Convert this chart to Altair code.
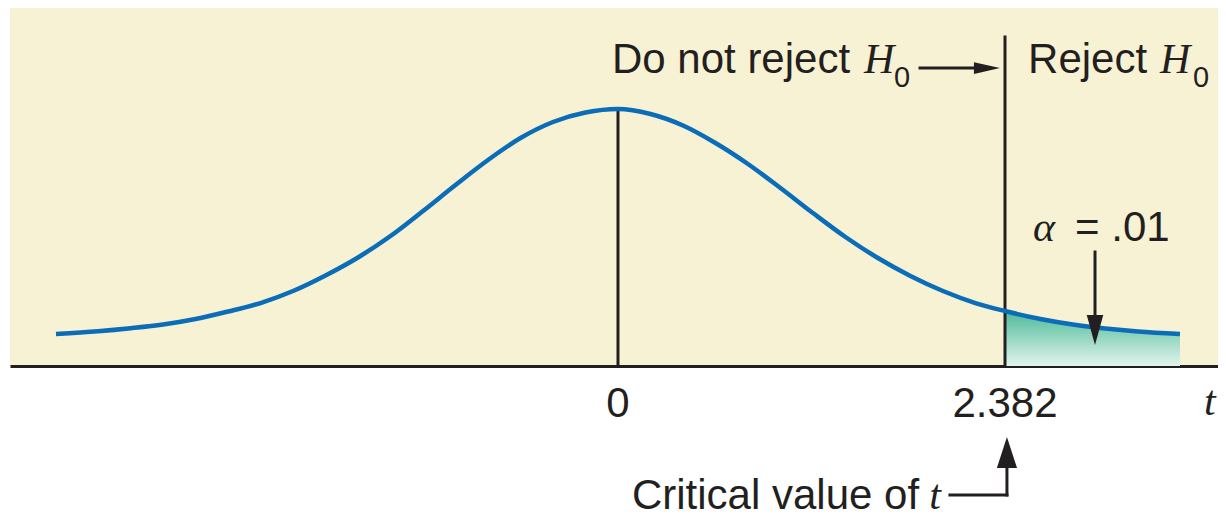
import altair as alt
import pandas as pd

# ---- curve (t value, density height) ----
curve_t = [-3.459, -3.2, -3.0, -2.8, -2.6, -2.4, -2.2, -2.0, -1.8, -1.6, -1.4, -1.2,
           -1.0, -0.8, -0.6, -0.4, -0.2, 0.0, 0.2, 0.4, 0.6, 0.8, 1.0, 1.2, 1.4,
           1.6, 1.8, 2.0, 2.2, 2.382, 2.6, 2.8, 3.0, 3.2, 3.459]
curve_d = [0.0501, 0.0544, 0.0591, 0.0649, 0.0735, 0.0852, 0.0985, 0.1173, 0.1416,
           0.1697, 0.2033, 0.2425, 0.2831, 0.3222, 0.3566, 0.3817, 0.3965, 0.4020,
           0.3942, 0.3762, 0.3488, 0.3160, 0.2784, 0.2393, 0.2018, 0.1689, 0.1408,
           0.1173, 0.0985, 0.0860, 0.0735, 0.0649, 0.0587, 0.0540, 0.0501]

crit_t = 2.382
peak_d = 0.402
tick_values = [0, crit_t]
tick_labels = ["0", "2.382"]

ink = "#231f20"
x_dom = [-3.742, 3.693]
y_dom = [0, 0.56]

xs = alt.Scale(domain=x_dom, nice=False, zero=False)
ys = alt.Scale(domain=y_dom, nice=False, zero=False)
xaxis = alt.Axis(domain=True, domainColor=ink, domainWidth=3, ticks=False,
                 labels=False, grid=False, title=None)


def X(f):
    return alt.X(f, type="quantitative", scale=xs, axis=xaxis)


def Y(f):
    return alt.Y(f, type="quantitative", scale=ys, axis=None)


curve = pd.DataFrame({"t": curve_t, "d": curve_d})
tail = curve[curve["t"] >= crit_t]

area = alt.Chart(tail).mark_area(
    interpolate="monotone",
    color=alt.Gradient(
        gradient="linear",
        stops=[alt.GradientStop(color="#4cba97", offset=0),
               alt.GradientStop(color="#e2f4ee", offset=1)],
        x1=1, x2=1, y1=0, y2=1),
).encode(x=X("t"), y=Y("d"))

line = alt.Chart(curve).mark_line(
    interpolate="monotone", color="#0b6cb8", strokeWidth=4.5
).encode(x=X("t"), y=Y("d"))

# rules: vertical at 0 and at the critical value, arrow shafts
rules = pd.DataFrame({
    "x": [0, crit_t, 1.859, 2.936, 2.394, 2.043],
    "x2": [0, crit_t, 2.259, 2.936, 2.394, 2.394],
    "y": [0, 0, 0.4661, 0.1783, -0.1596, -0.2018],
    "y2": [peak_d, 0.5146, 0.4661, 0.0720, -0.2018, -0.2018],
})
rule_layer = alt.Chart(rules).mark_rule(color=ink, strokeWidth=3, strokeCap="square").encode(
    x=X("x"), x2="x2", y=Y("y"), y2="y2")


def head(t, d, shape, size):
    return alt.Chart(pd.DataFrame({"t": [t], "d": [d]})).mark_point(
        shape=shape, size=size, filled=True, color=ink, opacity=1, strokeWidth=0
    ).encode(x=X("t"), y=Y("d"))


head_right = head(2.271, 0.4661, "M-1,-0.45L1,0L-1,0.45Z", 676)
head_down = head(2.936, 0.0563, "M-0.55,-1L0.55,-1L0,1Z", 900)
head_up = head(2.394, -0.1353, "M-0.65,1L0.65,1L0,-1Z", 961)


def texts(labels, ts, ds, font, size, align="left", style="normal"):
    df = pd.DataFrame({"label": labels, "t": ts, "d": ds})
    return alt.Chart(df).mark_text(
        font=font, fontSize=size, align=align, baseline="alphabetic",
        color=ink, fontStyle=style
    ).encode(x=X("t"), y=Y("d"), text="label:N")


sans_labels = texts(["Do not reject", "Reject", "= .01", "Critical value of"],
                    [-0.037, 2.524, 2.813, 0.086],
                    [0.4583, 0.4583, 0.1955, -0.2237], "Liberation Sans", 42)
tick_text = texts(tick_labels, tick_values, [-0.080, -0.080], "Liberation Sans", 42,
                  align="center")
italic_labels = texts(["H", "H", "α", "t", "t"],
                      [1.514, 3.336, 2.554, 1.916, 3.607],
                      [0.4583, 0.4583, 0.1955, -0.2237, -0.0766],
                      "Liberation Serif", 42, style="italic")
sub_labels = texts(["0", "0"], [1.699, 3.539], [0.4364, 0.4364], "Liberation Sans", 29)

chart = alt.layer(
    area, rule_layer, line, head_right, head_down, head_up,
    sans_labels, tick_text, italic_labels, sub_labels
).properties(
    width=1208, height=358,
    padding={"left": 2, "top": 0, "right": 0, "bottom": 154},
    autosize=alt.AutoSizeParams(type="none"),
    background="white",
).configure_view(fill="#f7f2d4", strokeWidth=0)

chart.save("out.html", embed_options={"renderer": "svg", "actions": False})
